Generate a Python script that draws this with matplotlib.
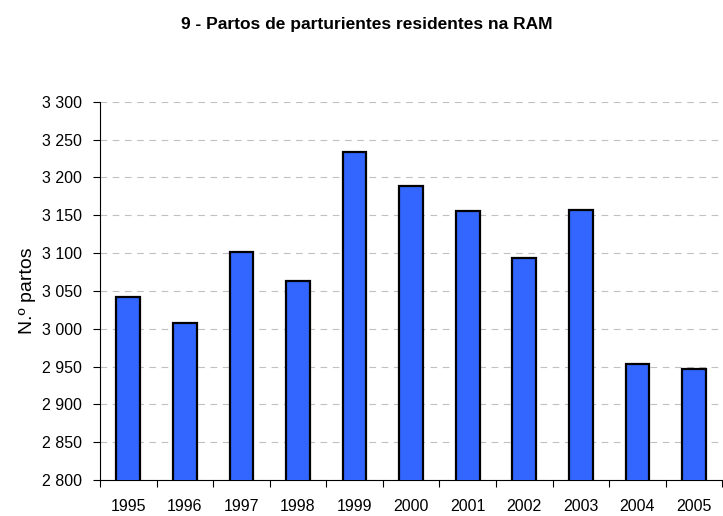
import matplotlib
matplotlib.use('Agg')
import matplotlib.pyplot as plt
from matplotlib.ticker import FuncFormatter, MultipleLocator
import numpy as np

# data
years = ['1995', '1996', '1997', '1998', '1999', '2000', '2001', '2002', '2003', '2004', '2005']
partos = [3042, 3008, 3102, 3063, 3234, 3188, 3155, 3093, 3157, 2953, 2947]

plt.rcParams['font.family'] = ['Liberation Sans', 'DejaVu Sans']

fig = plt.figure(figsize=(7.23, 5.16), dpi=100)
ax = fig.add_axes([100/723, 1 - 480/516, 1 - 100/723 - 0.001, (480 - 101.7)/516])

x = np.arange(len(years))
ax.bar(x, partos, width=0.42, color='#3366ff', edgecolor='black', linewidth=1.6, zorder=3)

ax.set_xlim(-0.5, len(years) - 0.5)
ax.set_ylim(2800, 3300)
ax.yaxis.set_major_locator(MultipleLocator(50))
ax.yaxis.set_major_formatter(FuncFormatter(lambda v, p: format(int(v), ',').replace(',', ' ')))

# category labels in the middle, tick marks at the boundaries
ax.set_xticks(x)
ax.set_xticklabels(years)
ax.tick_params(axis='x', which='major', length=0, pad=14, labelsize=11.5)
ax.set_xticks(np.arange(len(years) + 1) - 0.5, minor=True)
ax.tick_params(axis='x', which='minor', length=5, width=0.8, direction='out')
ax.tick_params(axis='y', length=5, width=0.8, labelsize=11.5, pad=8)

ax.yaxis.grid(True, linestyle=(0, (6, 5)), color='#c0c0c0', linewidth=0.8, zorder=0)
ax.spines['top'].set_visible(False)
ax.spines['right'].set_visible(False)
ax.spines['left'].set_linewidth(0.8)
ax.spines['bottom'].set_linewidth(0.8)

ax.set_ylabel('N.º partos', fontsize=14, labelpad=4)
fig.text(0.507, 1 - 25/516, '9 - Partos de parturientes residentes na RAM',
         ha='center', va='center', fontsize=12.5, fontweight='bold')

fig.savefig('out.png', dpi=100)
